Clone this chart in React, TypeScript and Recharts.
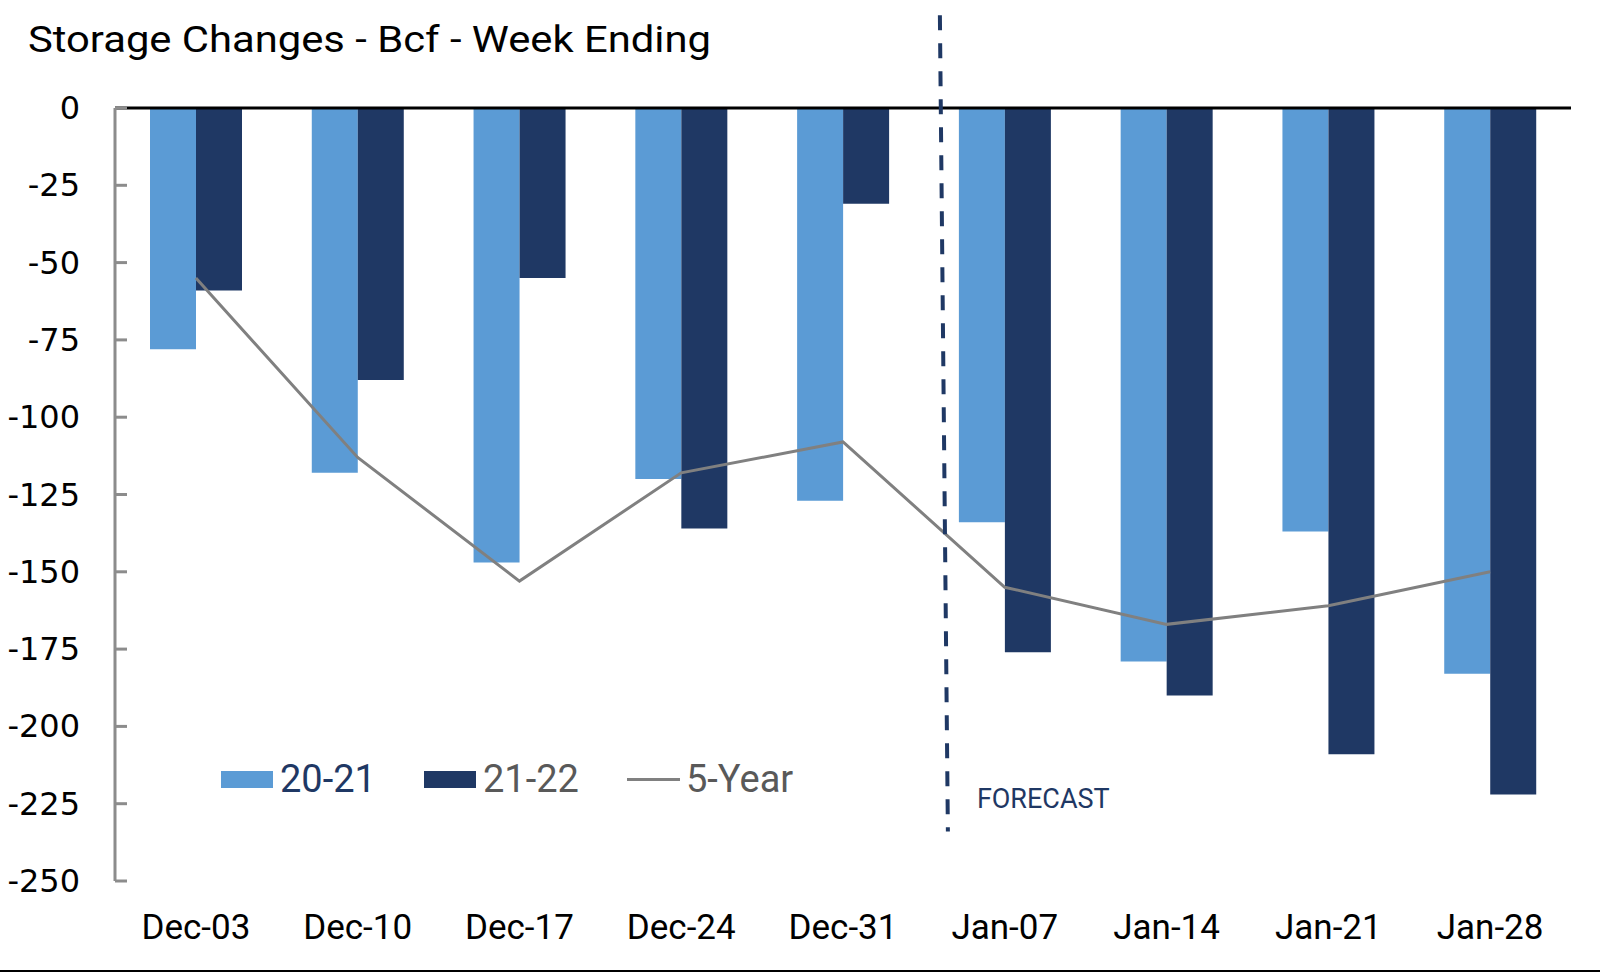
import React from 'react';
import {
  ComposedChart,
  Bar,
  Line,
  XAxis,
  YAxis,
  ReferenceLine,
  Legend,
} from 'recharts';

// week ending labels
const weeks = ['Dec-03', 'Dec-10', 'Dec-17', 'Dec-24', 'Dec-31', 'Jan-07', 'Jan-14', 'Jan-21', 'Jan-28'];

// storage changes, Bcf
const season2021 = [-78, -118, -147, -120, -127, -134, -179, -137, -183];
const season2122 = [-59, -88, -55, -136, -31, -176, -190, -209, -222];
const fiveYear = [-55, -113, -153, -118, -108, -155, -167, -161, -150];

const yTicks = [0, -25, -50, -75, -100, -125, -150, -175, -200, -225, -250];

const forecastStart = 'Jan-07';

const data = weeks.map((week, i) => ({
  week,
  s2021: season2021[i],
  s2122: season2122[i],
  fiveYear: fiveYear[i],
}));

const FONT = 'Roboto, "Liberation Sans", sans-serif';
const WIDE_FONT = '"DejaVu Sans", Roboto, sans-serif';
const LIGHT = '#5B9BD5';
const NAVY = '#1F3864';
const GRAY_LINE = '#808080';
const AXIS_GRAY = '#8C8C8C';

const XTick = (props: any) => {
  const { x, y, payload } = props;
  return (
    <text x={x} y={y + 58} textAnchor="middle" fontFamily={FONT} fontSize={35} fill="#000">
      {payload.value}
    </text>
  );
};

const YTick = (props: any) => {
  const { x, y, payload } = props;
  return (
    <g>
      <line x1={x} y1={y} x2={x + 12} y2={y} stroke={AXIS_GRAY} strokeWidth={3} />
      <text x={x - 35} y={y + 11} textAnchor="end" fontFamily={WIDE_FONT} fontSize={32} fill="#000">
        {payload.value}
      </text>
    </g>
  );
};

const ForecastShape = (props: any) => {
  const { x1, y1, x2, y2 } = props;
  return (
    <g>
      <line
        x1={x1 + 16}
        y1={y1}
        x2={x2 + 24}
        y2={y2}
        stroke={NAVY}
        strokeWidth={4}
        strokeDasharray="15 13"
      />
      <text x={x2 + 53} y={y2 - 24} fontFamily={FONT} fontSize={27} fill={NAVY}>
        FORECAST
      </text>
    </g>
  );
};

const legendTextColor: Record<string, string> = {
  '20-21': NAVY,
  '21-22': '#595959',
  '5-Year': '#595959',
};

const LegendContent = (props: any) => {
  const { payload } = props;
  return (
    <div style={{ display: 'flex', fontFamily: FONT, fontSize: 38, lineHeight: '40px' }}>
      {payload.map((entry: any) => (
        <div key={entry.value} style={{ width: 203, display: 'flex', alignItems: 'center' }}>
          {entry.type === 'line' ? (
            <div style={{ width: 53, height: 3, background: entry.color, marginRight: 6 }} />
          ) : (
            <div style={{ width: 52, height: 17, background: entry.color, marginRight: 7 }} />
          )}
          <span style={{ color: legendTextColor[entry.value] }}>{entry.value}</span>
        </div>
      ))}
    </div>
  );
};

export default function App() {
  return (
    <div style={{ position: 'relative', width: 1600, height: 973, background: '#fff', overflow: 'hidden' }}>
      <style>{`body { margin: 0; }`}</style>
      <svg width={760} height={75} style={{ position: 'absolute', left: 0, top: 0, zIndex: 2 }}>
        <text
          x={28}
          y={52}
          fontFamily={FONT}
          fontSize={37}
          fill="#000"
          textLength={683}
          lengthAdjust="spacingAndGlyphs"
        >
          Storage Changes - Bcf - Week Ending
        </text>
      </svg>
      <ComposedChart
        width={1600}
        height={973}
        data={data}
        margin={{ top: 108, right: 29, left: 0, bottom: 32 }}
        barGap={0}
      >
        <XAxis
          dataKey="week"
          axisLine={false}
          tickLine={false}
          tickSize={0}
          tickMargin={0}
          height={60}
          interval={0}
          tick={<XTick />}
        />
        <YAxis
          domain={[-250, 0]}
          ticks={yTicks}
          width={115}
          tickSize={0}
          tickMargin={0}
          tickLine={false}
          axisLine={{ stroke: AXIS_GRAY, strokeWidth: 3 }}
          tick={<YTick />}
          interval={0}
          allowDataOverflow
        />
        <Legend
          layout="vertical"
          align="center"
          verticalAlign="middle"
          content={<LegendContent />}
          wrapperStyle={{ left: 221, top: 759, width: 700, height: 40 }}
        />
        <Bar dataKey="s2021" name="20-21" fill={LIGHT} barSize={46} isAnimationActive={false} />
        <Bar dataKey="s2122" name="21-22" fill={NAVY} barSize={46} isAnimationActive={false} />
        <Line
          dataKey="fiveYear"
          name="5-Year"
          type="linear"
          stroke={GRAY_LINE}
          strokeWidth={3}
          dot={false}
          activeDot={false}
          isAnimationActive={false}
        />
        <ReferenceLine y={0} stroke="#000" strokeWidth={3} />
        <ReferenceLine
          segment={[
            { x: forecastStart, y: 30 },
            { x: forecastStart, y: -234 },
          ]}
          position="start"
          ifOverflow="visible"
          shape={<ForecastShape />}
        />
      </ComposedChart>
      <div style={{ position: 'absolute', left: 0, top: 970, width: 1600, height: 2, background: '#000' }} />
    </div>
  );
}
